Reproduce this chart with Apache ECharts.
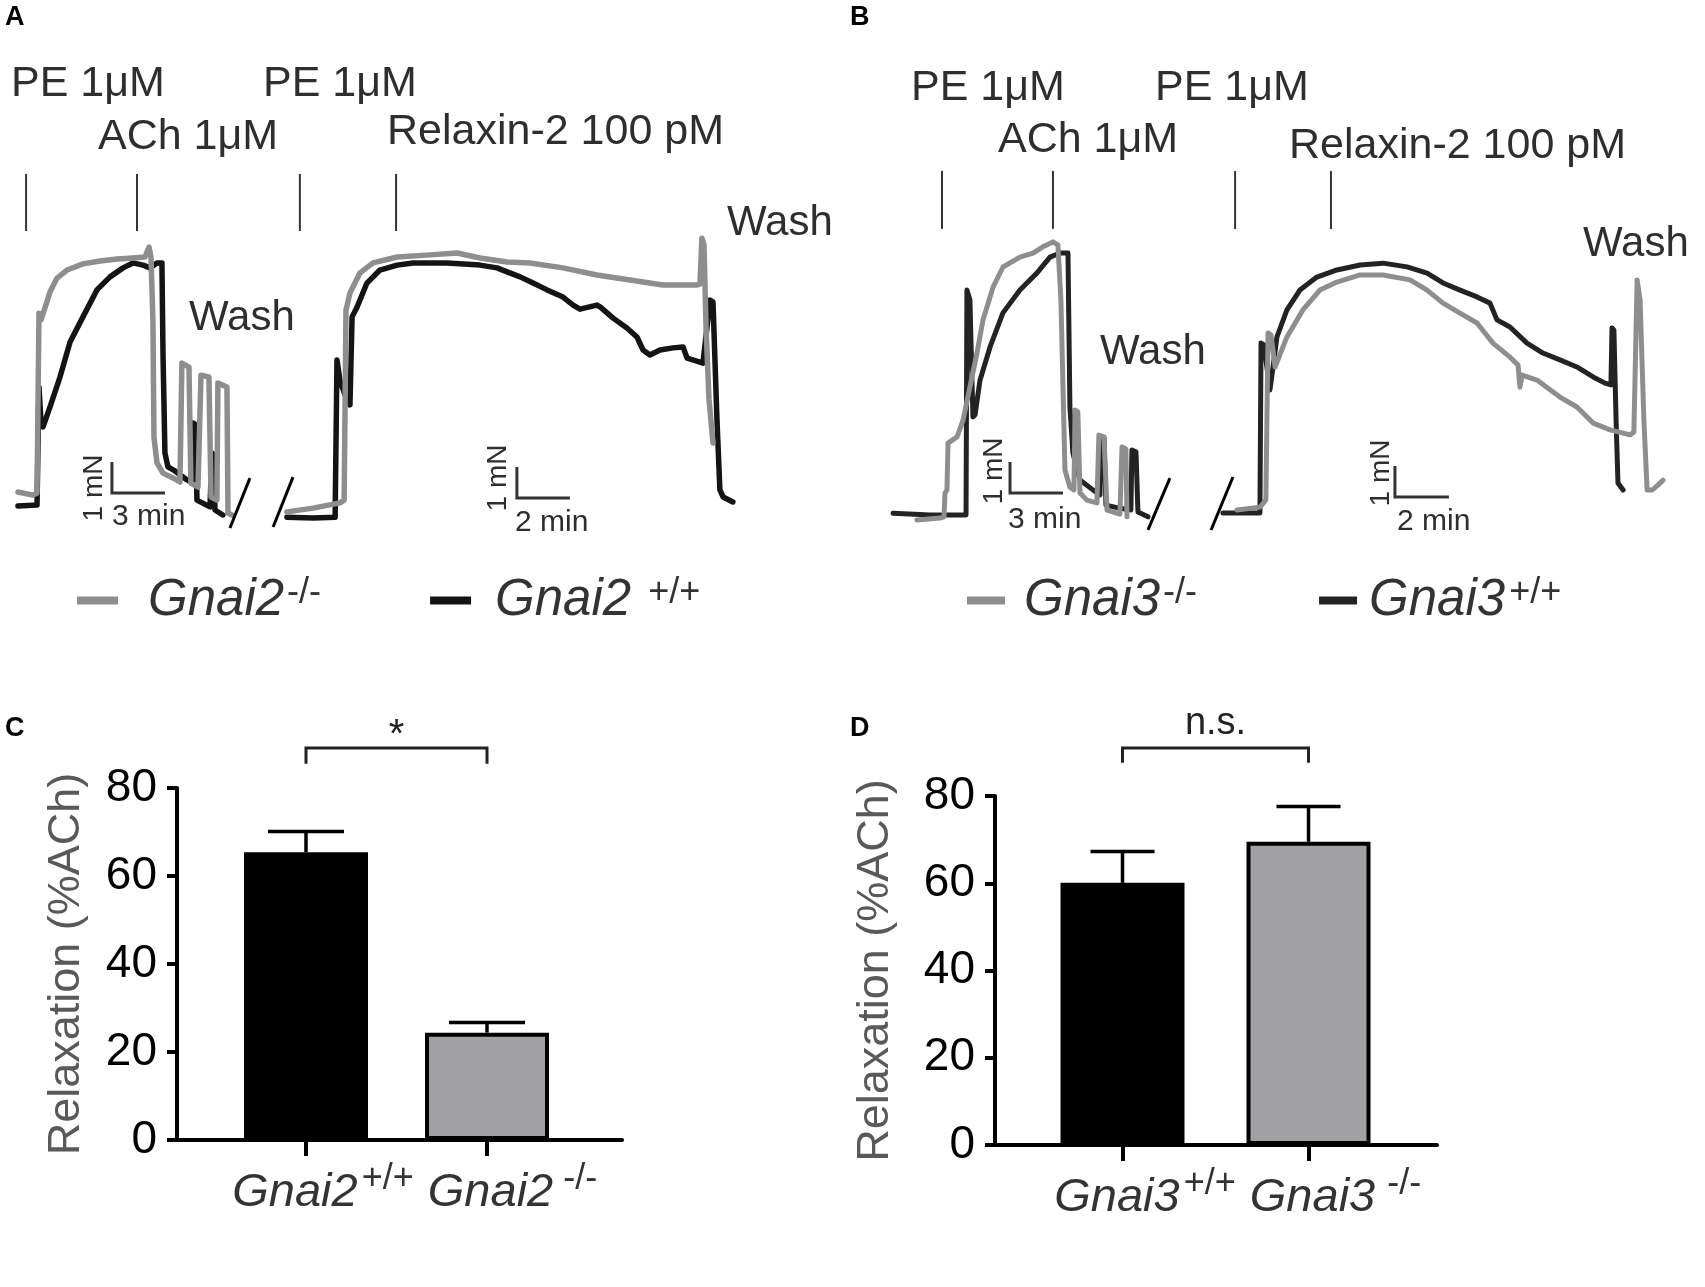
<!DOCTYPE html>
<html>
<head>
<meta charset="utf-8">
<script src="https://cdn.jsdelivr.net/npm/echarts@6/dist/echarts.min.js"></script>
<style>
  html, body { margin: 0; padding: 0; background: #fff; }
  #chart { width: 1705px; height: 1287px; }
</style>
</head>
<body>
<div id="chart"></div>
<script>
// ---- trace data: [time (min), force (mN above baseline)] ----
// panel A, PE + ACh segment
var aKoLeft = [[0.45,0.58],[1.30,0.48],[1.53,0.55],[1.64,6.35],[1.75,6.13],[1.98,6.52],[2.26,7.03],[2.66,7.48],[3.23,7.74],[4.13,7.94],[5.09,8.03],[6.06,8.10],[6.96,8.13],[7.64,8.16],[7.87,8.48],[7.98,8.16],[8.09,6.13],[8.15,2.35],[8.32,1.52],[8.66,1.19],[9.45,0.97],[9.62,0.90],[9.73,4.74],[10.13,4.61],[10.24,0.87],[10.64,0.74],[10.81,4.35],[11.26,4.29],[11.38,0.42],[11.71,0.32],[11.77,4.10],[12.28,3.97],[12.34,-0.10],[12.56,-0.16]];
var aWtLeft = [[0.45,0.13],[1.53,0.16],[1.64,3.97],[1.75,2.90],[1.87,2.68],[2.26,3.32],[2.83,4.29],[3.40,5.42],[4.13,6.23],[4.92,7.10],[5.66,7.52],[6.40,7.81],[6.96,7.97],[7.53,7.90],[7.92,7.81],[8.32,7.97],[8.60,7.97],[8.66,5.06],[8.77,1.84],[8.94,1.39],[9.34,1.26],[10.02,0.97],[10.36,0.87],[10.37,2.81],[10.53,2.74],[10.58,0.32],[11.32,0.10],[11.43,1.84],[11.55,1.77],[11.60,0],[12.05,-0.16]];
// panel A, PE + relaxin-2 segment
var aKoRight = [[0.26,-0.06],[1.25,0.06],[2.26,0.23],[2.42,0.32],[2.49,6.45],[2.64,7.0],[3.02,7.65],[3.51,7.97],[4.42,8.16],[5.66,8.23],[6.68,8.29],[7.55,8.13],[8.57,8.0],[9.43,7.97],[10.68,7.81],[11.96,7.58],[13.21,7.42],[14.45,7.26],[15.74,7.26],[15.85,7.29],[15.92,8.77],[16.0,8.55],[16.08,5.81],[16.19,3.55],[16.34,2.16]];
var aWtRight = [[0.26,-0.23],[1.25,-0.26],[2.08,-0.23],[2.15,4.84],[2.26,4.19],[2.45,3.71],[2.64,3.39],[2.72,6.23],[2.91,6.55],[3.28,7.32],[3.77,7.74],[4.42,7.90],[5.02,7.97],[6.30,7.97],[7.55,7.90],[8.19,7.81],[8.57,7.68],[9.06,7.52],[9.55,7.32],[10.08,7.10],[10.68,6.87],[11.06,6.61],[11.32,6.48],[11.96,6.61],[12.08,6.55],[12.57,6.19],[13.09,5.87],[13.47,5.58],[13.70,5.16],[13.96,5.0],[14.34,5.16],[14.83,5.23],[15.21,5.26],[15.36,4.90],[15.85,4.77],[15.96,4.74],[16.23,6.77],[16.34,6.71],[16.49,2.90],[16.60,0.65],[16.72,0.42],[17.09,0.26]];
// panel B, PE + ACh segment
var bKoLeft = [[2.09,-0.16],[3.40,-0.10],[3.62,-0.06],[3.68,0.71],[3.79,0.81],[3.85,2.32],[4.36,2.52],[4.70,3.06],[5.09,4.13],[5.49,5.23],[5.83,6.29],[6.40,7.35],[6.96,8.0],[7.92,8.32],[8.66,8.45],[9.22,8.65],[9.79,8.81],[10.07,8.71],[10.24,6.94],[10.47,1.45],[10.75,0.90],[10.98,0.81],[11.04,3.39],[11.20,3.32],[11.32,0.71],[11.71,0.48],[12.28,0.39],[12.39,2.58],[12.68,2.52],[12.85,0.16],[13.58,0.03],[13.70,2.19],[13.92,2.13],[13.98,-0.06]];
var bWtLeft = [[0.74,0.06],[2.83,0],[4.87,0],[4.92,7.26],[5.09,6.94],[5.26,3.16],[5.38,3.23],[5.66,4.35],[6.23,5.42],[6.96,6.52],[7.92,7.26],[8.89,7.81],[9.62,8.32],[10.19,8.45],[10.64,8.45],[10.75,3.48],[10.92,2.0],[11.32,1.13],[12.05,0.81],[12.45,0.65],[12.51,2.52],[12.68,2.48],[12.79,0.32],[13.47,0.23],[14.20,0.16],[14.26,2.10],[14.49,2.03],[14.60,0.10],[15.17,-0.06]];
// panel B, PE + relaxin-2 segment
var bKoRight = [[1.37,0.10],[2.22,0.19],[2.44,0.42],[2.52,5.81],[2.63,5.74],[2.78,4.71],[3.22,5.68],[3.81,6.55],[4.44,7.19],[5.07,7.45],[5.93,7.68],[6.78,7.68],[7.78,7.52],[8.41,7.19],[9.0,6.77],[9.63,6.45],[10.26,6.13],[10.85,5.48],[11.48,5.03],[11.78,4.77],[11.85,4.06],[11.93,4.45],[12.48,4.29],[13.33,3.74],[13.96,3.42],[14.56,2.90],[15.19,2.68],[15.93,2.52],[16.07,2.61],[16.19,7.52],[16.30,6.87],[16.44,3.0],[16.56,0.74],[16.74,0.74],[16.96,0.90],[17.15,1.06]];
var bWtRight = [[0.85,0],[2.22,0],[2.26,5.48],[2.37,5.42],[2.59,3.97],[2.74,4.94],[2.85,5.68],[3.22,6.55],[3.70,7.19],[4.33,7.61],[5.07,7.84],[5.93,8.0],[6.78,8.06],[7.67,7.94],[8.41,7.74],[9.0,7.42],[9.63,7.19],[10.26,6.97],[10.74,6.77],[11.0,6.23],[11.48,6.0],[12.11,5.48],[12.70,5.16],[13.33,4.94],[13.96,4.71],[14.56,4.39],[15.0,4.19],[15.22,4.13],[15.26,5.97],[15.33,5.90],[15.41,3.0],[15.48,0.97],[15.67,0.74]];

// drug application marks (min) and their force span (mN)
var aMarkLeft = [0.91, 7.19], aMarkRight = [0.75, 4.38];
var bMarkLeft = [3.51, 9.79], bMarkRight = [1.30, 4.85];
var aMarkSpan = [9.0, 10.84], bMarkSpanL = [9.23, 11.10], bMarkSpanR = [9.16, 11.03];

// scale bars: [start min, start mN, length min]
var aScaleL = [5.77, 0.55, 3], aScaleR = [8.94, 0.39, 2];
var bScaleL = [7.36, 0.71, 3], bScaleR = [7.22, 0.52, 2];

// axis break slashes [t1, f1, t2, f2]
var aBreakL = [12.45, -0.58, 13.58, 1.03], aBreakR = [-0.26, -0.55, 0.49, 1.06];
var bBreakL = [15.17, -0.48, 16.41, 1.19], bBreakR = [0.41, -0.55, 1.22, 1.16];

// ---- bar data: relaxation (% ACh) ----
var cGroups = ['Gnai2 +/+', 'Gnai2 -/-'];
var cMean = [65.4, 24.4];
var cSem = [4.7, 2.3];
var dGroups = ['Gnai3 +/+', 'Gnai3 -/-'];
var dMean = [60.1, 69.5];
var dSem = [7.2, 8.1];
var yTicks = [0, 20, 40, 60, 80];

var FONT = 'Arial, "Liberation Sans", Helvetica, sans-serif';
var GRAY = '#8e8e8e', BLACK = '#141414', INK = '#2e2e2e';
var PX_MN = 31, TOP = 150, H = 400;

// pixel layout of each trace segment
var segs = [
  { left: 10,   width: 255, x0: 10,   base: 510, pxMin: 53 / 3 },
  { left: 265,  width: 485, x0: 280,  base: 510, pxMin: 26.5 },
  { left: 875,  width: 305, x0: 880,  base: 515, pxMin: 53 / 3 },
  { left: 1195, width: 505, x0: 1200, base: 513, pxMin: 27 }
];

var grids = segs.map(function (s) { return { left: s.left, top: TOP, width: s.width, height: H }; });
grids.push({ left: 177, top: 788, width: 445, height: 352 });
grids.push({ left: 995, top: 796, width: 442, height: 349 });

var xAxes = segs.map(function (s, i) {
  return { gridIndex: i, type: 'value', show: false,
    min: (s.left - s.x0) / s.pxMin, max: (s.left + s.width - s.x0) / s.pxMin };
});
var yAxes = segs.map(function (s, i) {
  return { gridIndex: i, type: 'value', show: false,
    min: (s.base - TOP - H) / PX_MN, max: (s.base - TOP) / PX_MN };
});

function barX(idx, min, max, rich, fmt) {
  return {
    gridIndex: idx, type: 'value', min: min, max: max,
    axisLine: { show: true, onZero: false, lineStyle: { color: '#000', width: 4 } },
    axisTick: { show: true, customValues: [0, 1], length: 16, lineStyle: { color: '#000', width: 4 } },
    axisLabel: { show: true, customValues: [0, 1], margin: 21, formatter: fmt, rich: rich },
    splitLine: { show: false }
  };
}
function barY(idx, gap) {
  return {
    gridIndex: idx, type: 'value', min: yTicks[0], max: yTicks[yTicks.length - 1], interval: yTicks[1] - yTicks[0],
    axisLine: { show: true, onZero: false, lineStyle: { color: '#000', width: 4 } },
    axisTick: { show: true, length: 10, lineStyle: { color: '#000', width: 4 } },
    axisLabel: { fontSize: 46, color: '#000', margin: 20, fontFamily: FONT },
    splitLine: { show: false },
    name: 'Relaxation (%ACh)', nameLocation: 'middle', nameRotate: 90, nameGap: gap,
    nameTextStyle: { fontSize: 45, color: '#58595b', fontFamily: FONT }
  };
}

function labRich(padL, supPad) {
  return [
    { fontSize: 47, fontStyle: 'italic', color: '#333', fontFamily: FONT, padding: [8, 0, 0, padL] },
    { fontSize: 36, color: '#333', fontFamily: FONT, verticalAlign: 'top', padding: [0, 0, 0, supPad] }
  ];
}
var cR0 = labRich(34, 4), cR1 = labRich(51, 10), dR0 = labRich(45, 4), dR1 = labRich(54, 12);
var cRich = { g0: cR0[0], s0: cR0[1], g1: cR1[0], s1: cR1[1] };
var dRich = { g0: dR0[0], s0: dR0[1], g1: dR1[0], s1: dR1[1] };
function groupFmt(groups) {
  return function (v) {
    var i = Math.round(v), parts = groups[i].split(' ');
    return '{g' + i + '|' + parts[0] + '}{s' + i + '|' + parts[1] + '}';
  };
}

xAxes.push(barX(4, -129 / 181, 316 / 181, cRich, groupFmt(cGroups)));
xAxes.push(barX(5, -127.5 / 186, 314.5 / 186, dRich, groupFmt(dGroups)));
yAxes.push(barY(4, 88));
yAxes.push(barY(5, 97));

// ---- series helpers ----
function trace(idx, name, data, color, width, z) {
  return { type: 'line', name: name, xAxisIndex: idx, yAxisIndex: idx, data: data, color: color,
    showSymbol: false, symbol: 'none', silent: true, z: z, clip: false,
    lineStyle: { color: color, width: width, join: 'round', cap: 'round' } };
}
function strokes(idx, list, color, width) {
  return { type: 'custom', xAxisIndex: idx, yAxisIndex: idx, data: list, silent: true, z: 6,
    renderItem: function (p, api) {
      var a = api.coord([api.value(0), api.value(1)]);
      var b = api.coord([api.value(2), api.value(3)]);
      return { type: 'line', shape: { x1: a[0], y1: a[1], x2: b[0], y2: b[1] },
        style: { stroke: color, lineWidth: width } };
    } };
}
function marks(times, span) {
  return times.map(function (t) { return [t, span[0], t, span[1]]; });
}
function scaleBar(idx, sb) {
  return { type: 'line', xAxisIndex: idx, yAxisIndex: idx, silent: true, z: 6, symbol: 'none',
    data: [[sb[0], sb[1] + 1], [sb[0], sb[1]], [sb[0] + sb[2], sb[1]]],
    lineStyle: { color: '#333', width: 3, join: 'miter', cap: 'butt' } };
}
function errorBars(idx, means, sems, halfCap) {
  return { type: 'custom', xAxisIndex: idx, yAxisIndex: idx, silent: true, z: 4,
    data: means.map(function (m, i) { return [i, m, sems[i]]; }),
    renderItem: function (p, api) {
      var x = api.value(0), m = api.value(1), e = api.value(2);
      var b = api.coord([x, m]), t = api.coord([x, m + e]);
      var st = { stroke: '#000', lineWidth: 3.5 };
      return { type: 'group', children: [
        { type: 'line', shape: { x1: b[0], y1: b[1], x2: t[0], y2: t[1] }, style: st },
        { type: 'line', shape: { x1: t[0] - halfCap, y1: t[1], x2: t[0] + halfCap, y2: t[1] }, style: st }
      ] };
    } };
}
function bracket(idx, yTop, yDrop, label, size, lift) {
  return { type: 'custom', xAxisIndex: idx, yAxisIndex: idx, silent: true, z: 4,
    data: [[0, 1, yTop, yDrop]],
    renderItem: function (p, api) {
      var a = api.coord([api.value(0), api.value(3)]), b = api.coord([api.value(0), api.value(2)]);
      var c = api.coord([api.value(1), api.value(2)]), d = api.coord([api.value(1), api.value(3)]);
      return { type: 'group', children: [
        { type: 'polyline', shape: { points: [a, b, c, d] }, style: { stroke: '#222', lineWidth: 3, fill: null } },
        { type: 'text', x: (b[0] + c[0]) / 2, y: b[1] - lift,
          style: { text: label, fontSize: size, fontFamily: FONT, fill: '#222', align: 'center', verticalAlign: 'middle' } }
      ] };
    } };
}
function bars(idx, means) {
  var fills = ['#000000', '#a1a1a4'];
  return { type: 'bar', name: 'bars' + idx, xAxisIndex: idx, yAxisIndex: idx, barWidth: 124, silent: true, z: 2,
    data: means.map(function (v, i) {
      return { value: [i, v], itemStyle: { color: fills[i], borderColor: '#000', borderWidth: 4 } };
    }) };
}

var series = [
  trace(0, 'Gnai2 +/+', aWtLeft, BLACK, 5.5, 3), trace(0, 'Gnai2 -/-', aKoLeft, GRAY, 5.5, 4),
  trace(1, 'Gnai2 +/+', aWtRight, BLACK, 5.5, 3), trace(1, 'Gnai2 -/-', aKoRight, GRAY, 5.5, 4),
  trace(2, 'Gnai3 +/+', bWtLeft, '#232323', 5, 3), trace(2, 'Gnai3 -/-', bKoLeft, GRAY, 5, 4),
  trace(3, 'Gnai3 +/+', bWtRight, '#232323', 5, 3), trace(3, 'Gnai3 -/-', bKoRight, GRAY, 5, 4),
  strokes(0, marks(aMarkLeft, aMarkSpan), '#333', 2),
  strokes(1, marks(aMarkRight, aMarkSpan), '#333', 2),
  strokes(2, marks(bMarkLeft, bMarkSpanL), '#333', 2),
  strokes(3, marks(bMarkRight, bMarkSpanR), '#333', 2),
  strokes(0, [aBreakL], '#000', 3), strokes(1, [aBreakR], '#000', 3),
  strokes(2, [bBreakL], '#000', 3), strokes(3, [bBreakR], '#000', 3),
  scaleBar(0, aScaleL), scaleBar(1, aScaleR), scaleBar(2, bScaleL), scaleBar(3, bScaleR),
  bars(4, cMean), errorBars(4, cMean, cSem, 38), bracket(4, 89.1, 85.5, '*', 40, 12),
  bars(5, dMean), errorBars(5, dMean, dSem, 32), bracket(5, 91.0, 87.6, 'n.s.', 38, 24)
];

// ---- legends ----
function legendRich(padA, padB, supB) {
  return {
    ga: { fontSize: 51, fontStyle: 'italic', color: '#333', fontFamily: FONT, padding: [0, 0, 0, padA] },
    sa: { fontSize: 36, color: '#333', fontFamily: FONT, verticalAlign: 'top', padding: [0, 0, 0, 3] },
    gb: { fontSize: 51, fontStyle: 'italic', color: '#333', fontFamily: FONT, padding: [0, 0, 0, padB] },
    sb: { fontSize: 36, color: '#333', fontFamily: FONT, verticalAlign: 'top', padding: [0, 0, 0, supB] }
  };
}
function legendFmt(name) {
  var parts = name.split(' ');
  var k = parts[1] === '-/-' ? 'a' : 'b';
  return '{g' + k + '|' + parts[0] + '}{s' + k + '|' + parts[1] + '}';
}
var legends = [
  { left: 77, top: 575, padding: 0, icon: 'rect', itemWidth: 41, itemHeight: 8, itemGap: 109,
    data: ['Gnai2 -/-', 'Gnai2 +/+'], formatter: legendFmt, selectedMode: false,
    textStyle: { rich: legendRich(25, 19, 17) } },
  { left: 967, top: 575, padding: 0, icon: 'rect', itemWidth: 38, itemHeight: 8, itemGap: 122,
    data: ['Gnai3 -/-', 'Gnai3 +/+'], formatter: legendFmt, selectedMode: false,
    textStyle: { rich: legendRich(14, 7, 4) } }
];

// ---- annotation text ----
function txt(s, x, baseline, size, extra) {
  var o = { type: 'text', x: x, y: baseline - 0.34 * size, silent: true,
    style: { text: s, fontSize: size, fontFamily: FONT, fill: INK, align: 'left', verticalAlign: 'middle' } };
  if (extra) { for (var k in extra) o.style[k] = extra[k]; }
  return o;
}
function vtxt(s, x, y) {
  return { type: 'text', x: x, y: y, rotation: Math.PI / 2, silent: true,
    style: { text: s, fontSize: 28, fontFamily: FONT, fill: INK, align: 'center', verticalAlign: 'middle' } };
}
var bold = { fontWeight: 'bold', fill: '#000' };
var graphics = [
  txt('A', 5, 27, 27, bold), txt('B', 850, 27, 27, bold),
  txt('C', 5, 738, 27, bold), txt('D', 850, 738, 27, bold),
  txt('PE 1μM', 11, 99, 43), txt('ACh 1μM', 98, 152, 43), txt('PE 1μM', 263, 99, 43),
  txt('Relaxin-2 100 pM', 387, 147, 43), txt('Wash', 189, 333, 42), txt('Wash', 727, 238, 42),
  txt('PE 1μM', 911, 103, 43), txt('ACh 1μM', 998, 155, 43), txt('PE 1μM', 1155, 103, 43),
  txt('Relaxin-2 100 pM', 1289, 161, 43), txt('Wash', 1100, 367, 42), txt('Wash', 1583, 259, 42),
  txt('3 min', 112, 527, 30), txt('2 min', 515, 533, 30),
  txt('3 min', 1008, 530, 30), txt('2 min', 1397, 532, 30),
  vtxt('1 mN', 94, 488), vtxt('1 mN', 498, 478), vtxt('1 mN', 994, 471), vtxt('1 mN', 1381, 473)
];

var chart = echarts.init(document.getElementById('chart'), null, { renderer: 'canvas' });
chart.setOption({
  backgroundColor: '#ffffff',
  animation: false,
  textStyle: { fontFamily: FONT },
  grid: grids,
  xAxis: xAxes,
  yAxis: yAxes,
  legend: legends,
  series: series,
  graphic: graphics
});
</script>
</body>
</html>
